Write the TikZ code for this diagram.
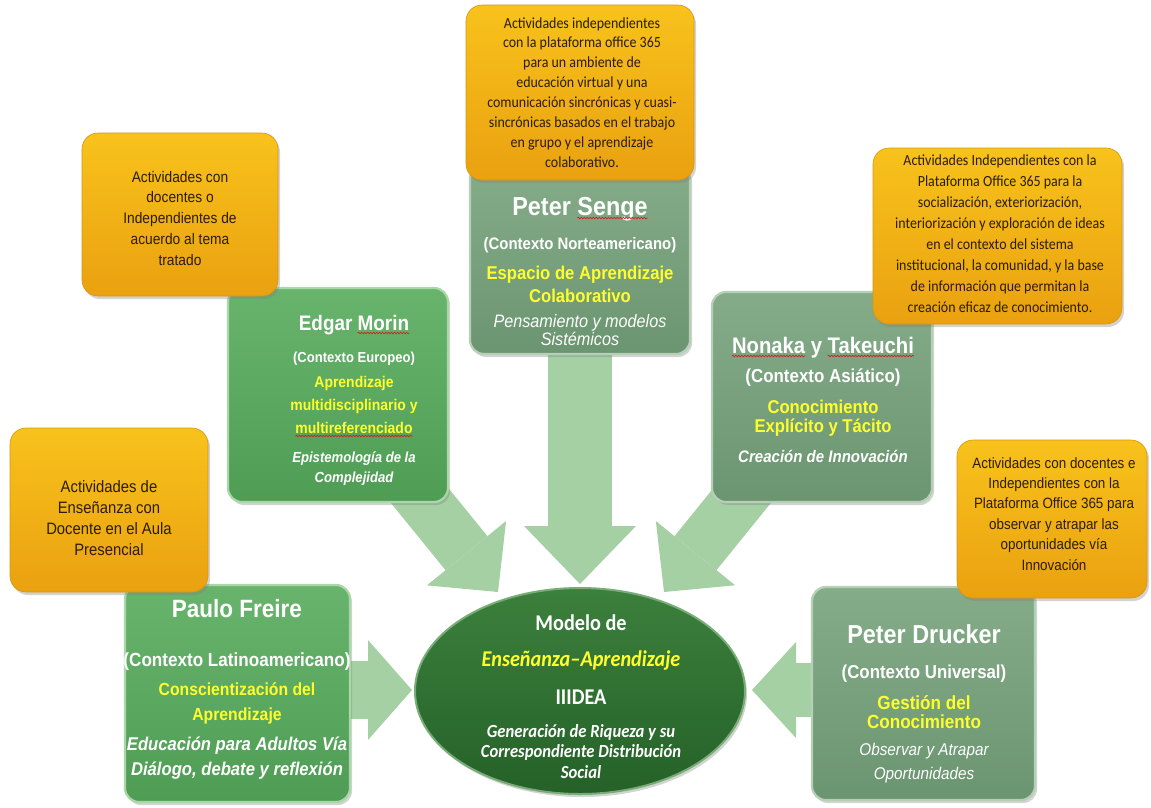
\documentclass[tikz,border=0pt]{standalone}
\usepackage{fontspec}
\setmainfont{Liberation Sans}[FakeStretch=0.9]
\newfontfamily\calfont{Carlito}[FakeStretch=0.9]
\usetikzlibrary{arrows.meta,shapes.geometric,shadows,decorations.pathmorphing}
\pgfdeclarelayer{back}
\pgfsetlayers{back,main}

\definecolor{orgtop}{HTML}{F8C21C}
\definecolor{orgbot}{HTML}{EAA110}
\definecolor{orgline}{HTML}{D8960C}
\definecolor{orgtext}{HTML}{2B1D00}
\definecolor{gbtop}{HTML}{68B46C}
\definecolor{gbbot}{HTML}{4F9D55}
\definecolor{gbline}{HTML}{A9D7A8}
\definecolor{ggtop}{HTML}{85AC89}
\definecolor{ggbot}{HTML}{6B9570}
\definecolor{ggline}{HTML}{B5D0B6}
\definecolor{elltop}{HTML}{3C803D}
\definecolor{ellbot}{HTML}{256128}
\definecolor{ellline}{HTML}{78AD78}
\definecolor{arrgreen}{HTML}{A4D0A4}
\definecolor{ylw}{HTML}{FFFF2E}
\definecolor{wavered}{HTML}{D42020}

\newcommand\fz[1]{\fontsize{#1}{#1}\selectfont}
% word with a red wavy underline
\newsavebox\sqbox
\newdimen\sqwd
\newcommand\sq[1]{\sbox\sqbox{#1}\sqwd=\wd\sqbox\rlap{\usebox\sqbox}%
  \tikz[overlay,x=1pt,y=1pt,baseline=0pt]\draw[wavered,line width=0.7pt,decorate,
  decoration={snake,amplitude=0.8pt,segment length=3pt}] (0pt,-3pt) -- (\sqwd,-3pt);%
  \hspace*{\sqwd}}

\begin{document}
\begin{tikzpicture}[x=1pt,y=-1pt,
  tx/.style={anchor=base,inner sep=0pt,outer sep=0pt},
  otx/.style={tx,text=orgtext},
  wtx/.style={tx,text=white},
  ytx/.style={tx,text=ylw},
  obox/.style={rectangle,rounded corners=16pt,top color=orgtop,bottom color=orgbot,
    draw=orgline,line width=0.6pt,
    drop shadow={shadow xshift=2pt,shadow yshift=-3pt,opacity=0.35}},
  gbright/.style={rectangle,rounded corners=14pt,top color=gbtop,bottom color=gbbot,
    draw=gbline,line width=2.2pt,
    drop shadow={shadow xshift=2pt,shadow yshift=-3pt,opacity=0.35}},
  ggray/.style={rectangle,rounded corners=14pt,top color=ggtop,bottom color=ggbot,
    draw=ggline,line width=2.2pt,
    drop shadow={shadow xshift=2pt,shadow yshift=-3pt,opacity=0.35}},
  ellshape/.style={ellipse,top color=elltop,bottom color=ellbot,draw=ellline,line width=2pt,
    drop shadow={shadow xshift=2pt,shadow yshift=-3pt,opacity=0.35}},
  bigarr/.style n args={4}{draw=arrgreen,line width=#1,
    -{Triangle[length=#2,width=#3,line width=0pt,fill=arrgreen]}},
]
\useasboundingbox (0,0) rectangle (1151,807);

% ---------- author boxes ----------
\node[gbright,minimum width=225pt,minimum height=217pt] (paulo) at (237.5,693.5) {};
\node[gbright,minimum width=220pt,minimum height=214pt] (edgar) at (338,395) {};
\node[ggray,minimum width=220pt,minimum height=189pt] (senge) at (580,259.5) {};
\node[ggray,minimum width=220pt,minimum height=210pt] (nonaka) at (822,397) {};
\node[ggray,minimum width=223pt,minimum height=213pt] (drucker) at (923.5,693.5) {};

% ---------- central model ----------
\node[ellshape,minimum width=330pt,minimum height=206pt] (modelo) at (580,691) {};

% ---------- block arrows towards the model ----------
\coordinate (sengeT) at (580,584);
\coordinate (edgarT) at (498,592);
\coordinate (nonakaT) at (664,592);
\coordinate (pauloT) at (412,690);
\coordinate (druckerT) at (752,690);
\begin{pgfonlayer}{back}
  \draw[bigarr={64pt}{58pt}{112pt}{}] (senge.center) -- (sengeT);
  \draw[bigarr={54pt}{50pt}{102pt}{}] (edgar.center) -- (edgarT);
  \draw[bigarr={54pt}{50pt}{102pt}{}] (nonaka.center) -- (nonakaT);
  \draw[bigarr={58pt}{44pt}{100pt}{}] (paulo.center |- pauloT) -- (pauloT);
  \draw[bigarr={54pt}{44pt}{96pt}{}] (drucker.center |- druckerT) -- (druckerT);
\end{pgfonlayer}

% ---------- activity boxes ----------
\node[obox,minimum width=196pt,minimum height=163pt] (oTL) at (180,214.5) {};
\node[obox,minimum width=228pt,minimum height=175pt] (oTC) at (580,92.5) {};
\node[obox,minimum width=249pt,minimum height=176pt] (oTR) at (997.5,236) {};
\node[obox,minimum width=198pt,minimum height=164pt] (oL) at (109,510) {};
\node[obox,minimum width=190pt,minimum height=158pt] (oBR) at (1052,519) {};

% ---------- activity texts ----------
\foreach \t [count=\i] in {Actividades independientes,con la plataforma office 365,
  para un ambiente de,educación virtual y una,comunicación sincrónicas y cuasi-,
  sincrónicas  basados en el trabajo,en grupo y el aprendizaje,colaborativo.}
  \node[otx,font=\calfont\fz{15.5}] (tc\i) at (582,{28+19.9*(\i-1)}) {\t};
\foreach \t [count=\i] in {Actividades con,docentes o,Independientes de,acuerdo al tema,tratado}
  \node[otx,font=\fz{15.3}] (tl\i) at (180,{182+20.75*(\i-1)}) {\t};
\foreach \t [count=\i] in {Actividades Independientes con la,Plataforma Office 365 para la,
  {socialización, exteriorización,},interiorización y exploración de ideas,
  en el  contexto del sistema,{institucional, la comunidad, y la base},
  de información que permitan la,creación eficaz de conocimiento.}
  \node[otx,font=\calfont\fz{15.5}] (tr\i) at (1000,{165+21.1*(\i-1)}) {\t};
\foreach \t [count=\i] in {Actividades de,Enseñanza con,Docente en el Aula,Presencial}
  \node[otx,font=\fz{16.5}] (ol\i) at (109,{492+21*(\i-1)}) {\t};
\foreach \t [count=\i] in {Actividades con docentes e,Independientes con la,
  Plataforma Office 365 para,observar y atrapar las,oportunidades vía,Innovación}
  \node[otx,font=\fz{14.9}] (br\i) at (1054,{468+20.4*(\i-1)}) {\t};

% ---------- Paulo Freire ----------
\node[wtx,font=\fz{25}\bfseries] (pf1) at (237,617) {Paulo Freire};
\node[wtx,font=\fz{19}\bfseries] (pf2) at (237,666) {(Contexto Latinoamericano)};
\node[ytx,font=\fz{17.5}\bfseries] (pf3) at (237,695) {Conscientización del};
\node[ytx,font=\fz{17.5}\bfseries] (pf4) at (237,720) {Aprendizaje};
\node[wtx,font=\fz{18.5}\bfseries\itshape] (pf5) at (237,750) {Educación para Adultos Vía};
\node[wtx,font=\fz{18.5}\bfseries\itshape] (pf6) at (237,775) {Diálogo, debate y reflexión};

% ---------- Edgar Morin ----------
\node[wtx,font=\fz{21}\bfseries] (em1) at (354,330) {Edgar \sq{Morin}};
\node[wtx,font=\fz{14.5}\bfseries] (em2) at (354,362) {(Contexto Europeo)};
\node[ytx,font=\fz{15.5}\bfseries] (em3) at (354,387) {Aprendizaje};
\node[ytx,font=\fz{15.5}\bfseries] (em4) at (354,410) {multidisciplinario y};
\node[ytx,font=\fz{15.5}\bfseries] (em5) at (354,433) {\sq{multireferenciado}};
\node[wtx,font=\fz{14.6}\bfseries\itshape] (em6) at (354,462) {Epistemología de la};
\node[wtx,font=\fz{14.6}\bfseries\itshape] (em7) at (354,482) {Complejidad};

% ---------- Peter Senge ----------
\node[wtx,font=\fz{26}\bfseries] (ps1) at (580,215) {Peter \sq{Senge}};
\node[wtx,font=\fz{16.6}\bfseries] (ps2) at (580,249) {(Contexto Norteamericano)};
\node[ytx,font=\fz{18.5}\bfseries] (ps3) at (580,279) {Espacio de Aprendizaje};
\node[ytx,font=\fz{18.5}\bfseries] (ps4) at (580,302) {Colaborativo};
\node[wtx,font=\fz{18}\itshape] (ps5) at (580,327) {Pensamiento y modelos};
\node[wtx,font=\fz{18}\itshape] (ps6) at (580,345) {Sistémicos};

% ---------- Nonaka y Takeuchi ----------
\node[wtx,font=\fz{22.5}\bfseries] (nt1) at (823,353) {\sq{Nonaka} y \sq{Takeuchi}};
\node[wtx,font=\fz{18.8}\bfseries] (nt2) at (823,382) {(Contexto Asiático)};
\node[ytx,font=\fz{18.5}\bfseries] (nt3) at (823,413) {Conocimiento};
\node[ytx,font=\fz{18.5}\bfseries] (nt4) at (823,432) {Explícito y Tácito};
\node[wtx,font=\fz{16.7}\bfseries\itshape] (nt5) at (823,462) {Creación de Innovación};

% ---------- Peter Drucker ----------
\node[wtx,font=\fz{26}\bfseries] (pd1) at (924,643) {Peter Drucker};
\node[wtx,font=\fz{18.7}\bfseries] (pd2) at (924,678) {(Contexto Universal)};
\node[ytx,font=\fz{19}\bfseries] (pd3) at (924,709) {Gestión del};
\node[ytx,font=\fz{19}\bfseries] (pd4) at (924,728) {Conocimiento};
\node[wtx,font=\fz{17}\itshape] (pd5) at (924,755) {Observar y Atrapar};
\node[wtx,font=\fz{17}\itshape] (pd6) at (924,779) {Oportunidades};

% ---------- model text ----------
\node[wtx,font=\calfont\fz{22.5}\bfseries] (md1) at (581,630) {Modelo de};
\node[ytx,font=\calfont\fz{22.5}\bfseries\itshape] (md2) at (581,666) {Enseñanza–Aprendizaje};
\node[wtx,font=\calfont\fz{22.5}\bfseries] (md3) at (581,704) {IIIDEA};
\node[wtx,font=\calfont\fz{18.5}\bfseries\itshape] (md4) at (581,737) {Generación de Riqueza y su};
\node[wtx,font=\calfont\fz{18.5}\bfseries\itshape] (md5) at (581,757) {Correspondiente Distribución};
\node[wtx,font=\calfont\fz{18.5}\bfseries\itshape] (md6) at (581,778) {Social};
\end{tikzpicture}
\end{document}
